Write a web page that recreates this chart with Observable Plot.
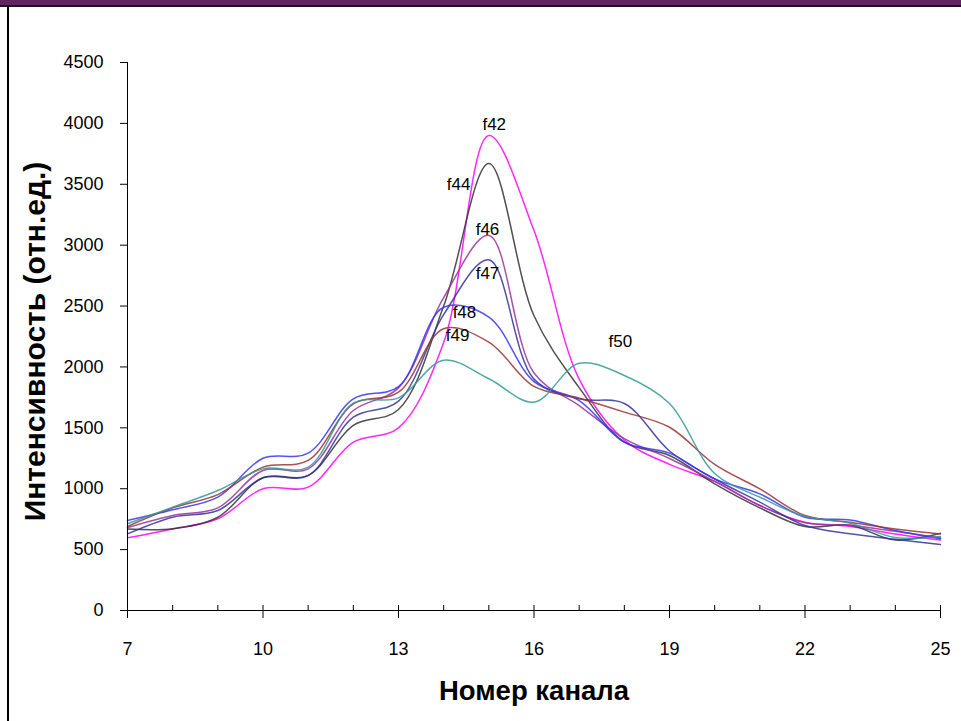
<!DOCTYPE html>
<html><head><meta charset="utf-8">
<script src="https://cdn.jsdelivr.net/npm/d3@7"></script>
<script src="https://cdn.jsdelivr.net/npm/@observablehq/plot@0.6"></script>
<style>
body{margin:0;background:#fff;width:961px;height:721px;overflow:hidden;position:relative;font-family:"Liberation Sans",Arial,sans-serif}
#chart{position:absolute;left:0;top:0}
#topbar{position:absolute;left:0;top:0;width:961px;height:5px;background:#5f2660;border-bottom:2px solid #2b0b2b}
#leftline{position:absolute;left:7px;top:6px;width:2px;height:715px;background:#000}
</style></head><body>
<div id="chart"></div><div id="topbar"></div><div id="leftline"></div>
<script>
const channels = [7,8,9,10,11,12,13,14,15,16,17,18,19,20,21,22,23,24,25];
const f42 = [597,670,753,1000,1013,1382,1500,2200,3900,3120,1900,1400,1200,1060,862,725,690,629,578];
const f44 = [670,672,766,1090,1110,1520,1650,2500,3670,2420,1830,1382,1273,1040,843,690,700,578,635];
const f46 = [680,780,843,1150,1163,1642,1828,2570,3080,1950,1683,1412,1248,1060,862,720,700,650,597];
const f47 = [629,766,821,1090,1108,1588,1719,2430,2880,1900,1738,1700,1310,1080,890,698,630,585,542];
const f48 = [739,827,931,1250,1292,1738,1839,2490,2410,1880,1724,1382,1292,1081,958,766,744,657,590];
const f49 = [690,843,952,1177,1232,1697,1793,2313,2204,1840,1743,1629,1505,1200,999,780,725,670,629];
const f50 = [712,848,985,1163,1177,1703,1746,2055,1903,1711,2030,1930,1700,1125,931,772,717,600,608];
const seriesNames = ["f42","f44","f46","f47","f48","f49","f50"];
const seriesValues = [f42,f44,f46,f47,f48,f49,f50];
const seriesColors = ["#ff00ff","#333333","#993399","#333399","#3333ff","#993333","#339999"];
const yTicks = [0,500,1000,1500,2000,2500,3000,3500,4000,4500];
const xTicks = [7,10,13,16,19,22,25];
const labelNames = ["f42","f44","f46","f47","f48","f49","f50"];
const labelX = [15.12,14.33,14.97,14.97,14.46,14.31,17.91];
const labelY = [3991,3498,3129,2767,2447,2258,2209];
const xTitle = "Номер канала";
const yTitle = "Интенсивность (отн.ед.)";

const data = [];
seriesNames.forEach((n,i)=>channels.forEach((c,j)=>data.push({series:n,x:c,y:seriesValues[i][j]})));
const labels = labelNames.map((t,i)=>({t,x:labelX[i],y:labelY[i]}));

const chart = Plot.plot({
  width:961, height:721,
  marginLeft:127, marginRight:21, marginTop:62, marginBottom:111,
  style:{fontFamily:"'Liberation Sans', Arial, sans-serif", fontSize:"18px", background:"white", color:"#000"},
  x:{domain:[7,25]},
  y:{domain:[0,4500]},
  color:{domain:seriesNames, range:seriesColors},
  marks:[
    Plot.line(data,{x:"x",y:"y",z:"series",stroke:"series",curve:"catmull-rom",strokeWidth:1.5,strokeOpacity:0.85}),
    Plot.ruleX([7],{stroke:"#000",strokeWidth:1}),
    Plot.ruleY([0],{stroke:"#000",strokeWidth:1}),
    Plot.tickX(channels,{x:d=>d,insetTop:543,stroke:"#000"}),
    Plot.axisX(xTicks,{tickSize:8,tickPadding:24,fontSize:18,label:null,stroke:"#000",tickFormat:d=>String(d)}),
    Plot.axisY(yTicks,{tickSize:7,tickPadding:17,fontSize:18,label:null,stroke:"#000",tickFormat:d=>String(d)}),
    Plot.text(labels,{x:"x",y:"y",text:"t",fontSize:17,fill:"#000"}),
    Plot.text([xTitle],{frameAnchor:"bottom",dy:89,fontSize:27.5,fontWeight:"bold",fill:"#000"}),
    Plot.text([yTitle],{frameAnchor:"left",textAnchor:"middle",dx:-92,dy:5,rotate:-90,fontSize:30,fontWeight:"bold",fill:"#000"})
  ]
});
document.getElementById("chart").appendChild(chart);
</script>
</body></html>
